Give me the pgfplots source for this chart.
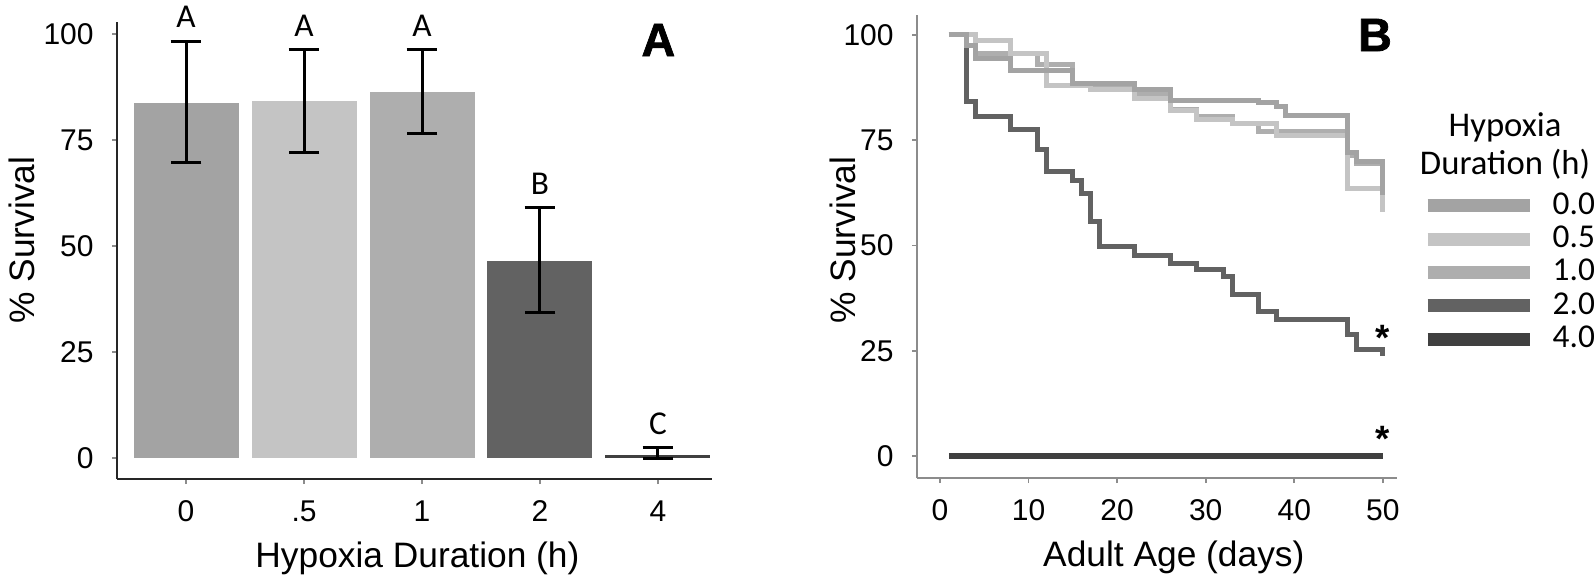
\documentclass[border=0pt]{standalone}
\usepackage{fontspec}
\setmainfont{Liberation Sans}
\newfontfamily\carl{Carlito}
\newfontfamily\heavy{Liberation Sans Bold}[FakeBold=1.5]
\usepackage{pgfplots}
\pgfplotsset{compat=1.18}
\definecolor{cA}{HTML}{A3A3A3}
\definecolor{cB}{HTML}{C4C4C4}
\definecolor{cC}{HTML}{AEAEAE}
\definecolor{cD}{HTML}{626262}
\definecolor{cE}{HTML}{404040}
\definecolor{axgray}{HTML}{8C8C8C}
\begin{document}
\begin{tikzpicture}
\pgfplotsset{
  common/.style={
    scale only axis, clip=false,
    axis x line*=bottom, axis y line*=left,
    tick align=outside, major tick length=1.5pt,
    tick style={axgray, line width=0.5pt},
    ticklabel style={font=\fontsize{9}{10}\selectfont},
    /pgf/number format/assume math mode=true,
    label style={font=\fontsize{10.6}{12}\selectfont},
    ytick={0,25,50,75,100},
    yticklabel style={xshift=-2pt},
    xticklabel style={yshift=-1.5pt},
  },
  barA/.style={ybar, bar width=31.5pt, bar shift=0pt, draw=none, fill=#1,
    error bars/y dir=both, error bars/y explicit,
    error bars/error bar style={line width=0.9pt, black},
    error bars/error mark options={rotate=90, mark size=4.6pt, line width=0.9pt, black}},
}
% ---------------- Panel A ----------------
\begin{axis}[common,
  at={(35.1pt,30.3pt)}, anchor=south west,
  width=178.5pt, height=137.1pt,
  xmin=-0.585, xmax=4.458, ymin=-4.95, ymax=102.8,
  axis line style={black!85, line width=0.6pt},
  xtick={0,1,2,3,4}, xticklabels={0,.5,1,2,4},
  xlabel={Hypoxia Duration (h)}, ylabel={\% Survival},
  xlabel style={at={(axis description cs:0.505,-0.173)}, anchor=center},
  ylabel style={at={(axis description cs:-0.16,0.523)}, anchor=center},
]
\addplot[barA=cA] coordinates {(0,83.7) += (0,14.6) -= (0,14.1)};
\addplot[barA=cB] coordinates {(1,84.2) += (0,12.0) -= (0,12.2)};
\addplot[barA=cC] coordinates {(2,86.3) += (0,9.9) -= (0,9.9)};
\addplot[barA=cD] coordinates {(3,46.5) += (0,12.5) -= (0,12.3)};
\addplot[barA=cE] coordinates {(4,0.6) += (0,1.8) -= (0,0.6)};
\node[font=\carl\fontsize{10}{11}\selectfont] at (axis cs:0,104.0) {A};
\node[font=\carl\fontsize{10}{11}\selectfont] at (axis cs:1,102.0) {A};
\node[font=\carl\fontsize{10}{11}\selectfont] at (axis cs:2,102.0) {A};
\node[font=\carl\fontsize{10}{11}\selectfont] at (axis cs:3,64.6) {B};
\node[font=\carl\fontsize{10}{11}\selectfont] at (axis cs:4,8.0) {C};
\end{axis}
% ---------------- Panel B ----------------
\begin{axis}[common,
  at={(275.1pt,30.6pt)}, anchor=south west,
  width=144pt, height=138.9pt,
  xmin=-2.6, xmax=51.6, ymin=-5.2, ymax=104.75,
  axis line style={axgray, line width=0.6pt},
  xtick={0,10,20,30,40,50},
  xlabel={Adult Age (days)}, ylabel={\% Survival},
  xlabel style={at={(axis description cs:0.535,-0.171)}, anchor=center},
  ylabel style={at={(axis description cs:-0.155,0.514)}, anchor=center},
  reverse legend,
  legend cell align=left,
  legend style={at={(axis description cs:1.05,0.62)}, anchor=north west,
    draw=none, fill=none, inner sep=0pt, outer sep=0pt,
    row sep=1pt, column sep=5pt,
    font=\carl\fontsize{10}{11}\selectfont,
    nodes={inner sep=0pt, text height=7pt, text depth=2pt}},
  legend image code/.code={\draw[#1, line width=3.9pt] (0pt,0pt) -- (30.6pt,0pt);},
]
\addplot[cE, line width=2pt] coordinates {(1,0) (50,0)};
\addlegendentry{4.0}
\addplot[cD, line width=1.5pt] coordinates {
(1,100) (3,100) (3,84.2) (4,84.2) (4,80.6) (8,80.6) (8,77.5) (11,77.5) (11,72.7)
(12,72.7) (12,67.5) (15,67.5) (15,65.5) (16,65.5) (16,62.4) (17,62.4) (17,55.7)
(18,55.7) (18,49.7) (22,49.7) (22,47.7) (26,47.7) (26,45.8) (29,45.8) (29,44.4)
(32,44.4) (32,42.6) (33,42.6) (33,38.3) (36,38.3) (36,34.3) (38,34.3) (38,32.5)
(46,32.5) (46,28.9) (47,28.9) (47,25.4) (50,25.4) (50,23.8)};
\addlegendentry{2.0}
\addplot[cC, line width=1.5pt] coordinates {
(1,100) (4,100) (4,95.6) (11,95.6) (11,92.9) (15,92.9) (15,88) (22,88) (22,86)
(26,86) (26,82.3) (29,82.3) (29,80.7) (33,80.7) (33,79.1) (36,79.1) (36,77.1)
(46,77.1) (46,71.5) (47,71.5) (47,69.5) (50,69.5)};
\addlegendentry{1.0}
\addplot[cB, line width=1.5pt] coordinates {
(1,100) (4,100) (4,98.8) (8,98.8) (8,95.6) (12,95.6) (12,88) (17,88) (17,87)
(22,87) (22,85) (26,85) (26,82) (29,82) (29,80) (33,80) (33,79) (38,79) (38,76.2)
(46,76.2) (46,63.6) (50,63.6) (50,58)};
\addlegendentry{0.5}
\addplot[cA, line width=1.5pt] coordinates {
(1,100) (3,100) (3,97.5) (4,97.5) (4,94.5) (8,94.5) (8,91.5) (15,91.5) (15,88.5)
(22,88.5) (22,87) (26,87) (26,84.5) (36,84.5) (36,84) (38,84) (38,83) (39,83)
(39,81) (46,81) (46,72) (47,72) (47,70) (50,70) (50,62)};
\addlegendentry{0.0}
\node[font=\bfseries\fontsize{11}{12}\selectfont, yshift=-1.8pt] at (axis cs:50,29.5) {*};
\node[font=\bfseries\fontsize{11}{12}\selectfont, yshift=-1.8pt] at (axis cs:50,5.4) {*};
\node[font=\carl\fontsize{10.4}{11.4}\selectfont, align=center] at (axis description cs:1.225,0.717) {Hypoxia\\Duration (h)};
\end{axis}
\node[font=\heavy\fontsize{14}{14}\selectfont] at (197.5pt,162pt) {A};
\node[font=\heavy\fontsize{14}{14}\selectfont] at (412.5pt,163.5pt) {B};
\pgfresetboundingbox
\path[use as bounding box] (0,0) rectangle (478.2pt,174pt);
\end{tikzpicture}
\end{document}
